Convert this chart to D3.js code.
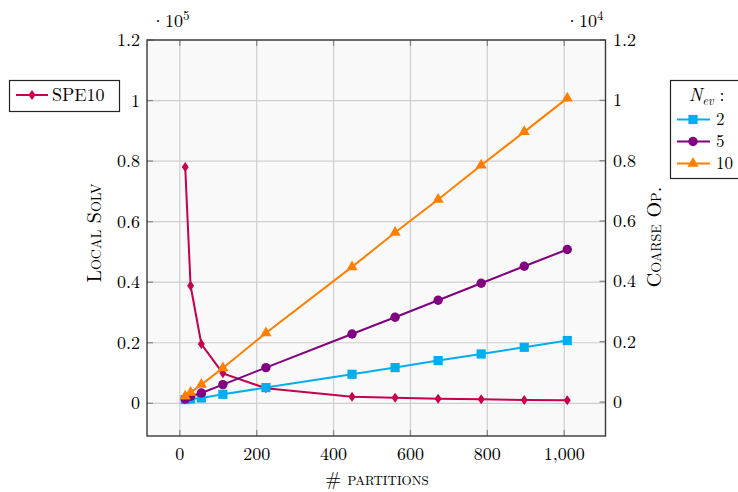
<!DOCTYPE html>
<html><head><meta charset="utf-8">
<script src="https://cdn.jsdelivr.net/npm/d3@7"></script>
<style>body{margin:0;background:#fff;}svg{display:block;}</style></head>
<body><svg id="chart" width="738" height="492" font-family="'Latin Modern Roman', 'FreeSerif', serif"></svg>
<script>
const partitions = [14, 28, 56, 112, 224, 448, 560, 672, 784, 896, 1008];
const spe10 = [78090, 38810, 19570, 9900, 4950, 2180, 1850, 1520, 1320, 1090, 990];
const nev2 = [80, 100, 133, 255, 478, 919, 1141, 1373, 1592, 1814, 2037];
const nev5 = [100, 189, 299, 577, 1141, 2255, 2809, 3373, 3937, 4501, 5055];
const nev10 = [189, 312, 577, 1128, 2289, 4478, 5618, 6713, 7851, 8955, 10073];
const xTicks = [0, 200, 400, 600, 800, 1000];
const xTickLabels = ["0", "200", "400", "600", "800", "1,000"];
const leftTicks = [0, 20000, 40000, 60000, 80000, 100000, 120000];
const leftTickLabels = ["0", "0.2", "0.4", "0.6", "0.8", "1", "1.2"];
const rightTicks = [0, 2000, 4000, 6000, 8000, 10000, 12000];
const rightTickLabels = ["0", "0.2", "0.4", "0.6", "0.8", "1", "1.2"];
const nevLabels = ["2", "5", "10"];

const svg = d3.select("#chart");
const L = 147, R = 605.5, T = 40, B = 436;
const x = d3.scaleLinear().domain([-85.4, 1107.4]).range([L, R]);
const yL = d3.scaleLinear().domain([-10800, 120000]).range([B, T]);
const yR = d3.scaleLinear().domain([-1127, 12000]).range([B, T]);

svg.append("rect").attr("x", L).attr("y", T).attr("width", R - L).attr("height", B - T).attr("fill", "#f9f9f9");

const grid = svg.append("g").attr("stroke", "#cfcfcf").attr("stroke-width", 1.2);
xTicks.forEach(v => grid.append("line").attr("x1", x(v)).attr("x2", x(v)).attr("y1", T).attr("y2", B));
leftTicks.forEach(v => grid.append("line").attr("x1", L).attr("x2", R).attr("y1", yL(v)).attr("y2", yL(v)));

const tk = svg.append("g").attr("stroke", "#8a8a8a").attr("stroke-width", 1.3);
xTicks.forEach(v => {
  tk.append("line").attr("x1", x(v)).attr("x2", x(v)).attr("y1", B).attr("y2", B - 6);
  tk.append("line").attr("x1", x(v)).attr("x2", x(v)).attr("y1", T).attr("y2", T + 6);
});
leftTicks.forEach(v => tk.append("line").attr("x1", L).attr("x2", L + 6).attr("y1", yL(v)).attr("y2", yL(v)));
rightTicks.forEach(v => tk.append("line").attr("x1", R).attr("x2", R - 6).attr("y1", yR(v)).attr("y2", yR(v)));

svg.append("rect").attr("x", L).attr("y", T).attr("width", R - L).attr("height", B - T)
  .attr("fill", "none").attr("stroke", "#3a3a3a").attr("stroke-width", 1.4);

const fs = 18;
xTicks.forEach((v, i) => svg.append("text").attr("x", x(v)).attr("y", 460).attr("text-anchor", "middle")
  .attr("font-size", fs).text(xTickLabels[i]));
leftTicks.forEach((v, i) => svg.append("text").attr("x", 140).attr("y", yL(v)).attr("dy", "0.34em")
  .attr("text-anchor", "end").attr("font-size", fs).text(leftTickLabels[i]));
rightTicks.forEach((v, i) => svg.append("text").attr("x", 613).attr("y", yR(v)).attr("dy", "0.34em")
  .attr("text-anchor", "start").attr("font-size", fs).text(rightTickLabels[i]));

function expo(xp, p) {
  const t = svg.append("text").attr("x", xp).attr("y", 27).attr("font-size", fs);
  t.append("tspan").text("\u00b710");
  t.append("tspan").attr("dy", -7).attr("font-size", 13).text(p);
}
expo(151, "5");
expo(565, "4");

svg.append("text").attr("x", 377).attr("y", 485).attr("text-anchor", "middle").attr("font-size", 19)
  .style("font-variant", "small-caps").text("# partitions");
svg.append("text").attr("transform", "translate(101,233) rotate(-90)").attr("text-anchor", "middle")
  .attr("font-size", 20).style("font-variant", "small-caps").text("Local Solv");
svg.append("text").attr("transform", "translate(661,237) rotate(-90)").attr("text-anchor", "middle")
  .attr("font-size", 20).style("font-variant", "small-caps").text("Coarse Op.");

const diamond = "M0,-5 L3.5,0 L0,5 L-3.5,0 Z";
const square = "M-4.6,-4.6 H4.6 V4.6 H-4.6 Z";
const circle = d3.symbol().type(d3.symbolCircle).size(Math.PI * 4.7 * 4.7)();
const tri = "M0,-6.5 L5.6,3.25 L-5.6,3.25 Z";

const series = [
  {vals: spe10, y: yL, color: "#c4004f", marker: diamond},
  {vals: nev2, y: yR, color: "#00aeef", marker: square},
  {vals: nev5, y: yR, color: "#800080", marker: circle},
  {vals: nev10, y: yR, color: "#ff8000", marker: tri}
];
series.forEach(s => {
  const line = d3.line().x((d, i) => x(partitions[i])).y(d => s.y(d));
  svg.append("path").attr("d", line(s.vals)).attr("fill", "none").attr("stroke", s.color).attr("stroke-width", 2);
  s.vals.forEach((d, i) => svg.append("path").attr("d", s.marker)
    .attr("transform", `translate(${x(partitions[i])},${s.y(d)})`).attr("fill", s.color));
});

svg.append("rect").attr("x", 9.5).attr("y", 80.5).attr("width", 110).attr("height", 31).attr("fill", "#fff")
  .attr("stroke", "#222").attr("stroke-width", 1.2);
svg.append("line").attr("x1", 16).attr("x2", 48).attr("y1", 95).attr("y2", 95).attr("stroke", series[0].color).attr("stroke-width", 2);
svg.append("path").attr("d", diamond).attr("transform", "translate(32,95)").attr("fill", series[0].color);
svg.append("text").attr("x", 52).attr("y", 101).attr("font-size", fs).text("SPE10");

svg.append("rect").attr("x", 670.5).attr("y", 80.5).attr("width", 80).attr("height", 98).attr("fill", "#fff")
  .attr("stroke", "#222").attr("stroke-width", 1.2);
const title = svg.append("text").attr("x", 689).attr("y", 101).attr("font-size", fs);
title.append("tspan").attr("font-style", "italic").text("N");
title.append("tspan").attr("font-style", "italic").attr("font-size", 12).attr("dy", 4).text("ev");
title.append("tspan").attr("dy", -4).text(" :");
[119.5, 141.5, 163.5].forEach((yy, i) => {
  const s = series[i + 1];
  svg.append("line").attr("x1", 677).attr("x2", 710).attr("y1", yy).attr("y2", yy).attr("stroke", s.color).attr("stroke-width", 2);
  svg.append("path").attr("d", s.marker).attr("transform", `translate(693,${yy})`).attr("fill", s.color);
  svg.append("text").attr("x", 716).attr("y", yy).attr("dy", "0.34em").attr("font-size", 17).text(nevLabels[i]);
});
</script></body></html>
